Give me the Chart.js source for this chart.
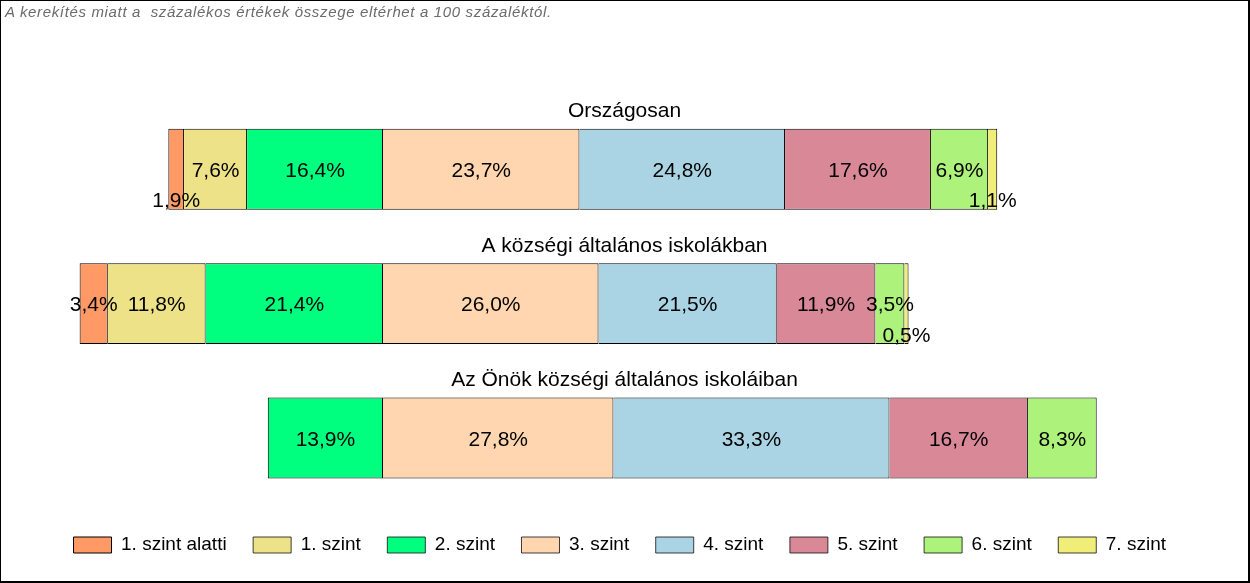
<!DOCTYPE html>
<html><head><meta charset="utf-8">
<script src="https://cdn.jsdelivr.net/npm/chart.js@4.4.1/dist/chart.umd.min.js"></script>
<style>
html,body{margin:0;padding:0;background:#fff;}
#wrap{position:absolute;left:0;top:0;width:1250px;height:583px;box-sizing:border-box;border-style:solid;border-color:#000;border-width:1px 2px 2px 1px;background:#fff;}
#box{position:absolute;left:0;top:0;width:1247px;height:580px;}
#note{position:absolute;left:4px;top:2px;font:italic 15px "Liberation Sans",Arial,sans-serif;letter-spacing:0.65px;color:#6b6b6b;white-space:pre;}
</style></head><body>
<div id="wrap"><div id="box"><canvas id="c"></canvas></div><div id="note">A kerekítés miatt a  százalékos értékek összege eltérhet a 100 százaléktól.</div></div>
<script>
const rowTitles = ['Országosan', 'A községi általános iskolákban', 'Az Önök községi általános iskoláiban'];
const levelNames = ['1. szint alatti', '1. szint', '2. szint', '3. szint', '4. szint', '5. szint', '6. szint', '7. szint'];
const levelColors = ['#FF9966', '#EEE288', '#00FF7F', '#FFD6AF', '#AAD4E4', '#D98898', '#ADF27A', '#F0EE78'];
const belowLevel1 = [1.9, 3.4, 0];
const level1 = [7.6, 11.8, 0];
const level2 = [16.4, 21.4, 13.9];
const level3 = [23.7, 26.0, 27.8];
const level4 = [24.8, 21.5, 33.3];
const level5 = [17.6, 11.9, 16.7];
const level6 = [6.9, 3.5, 8.3];
const level7 = [1.1, 0.5, 0];

const series = [belowLevel1, level1, level2, level3, level4, level5, level6, level7];
const leftOrder = [2, 1, 0];      // stacked leftwards from 0
const rightOrder = [3, 4, 5, 6, 7]; // stacked rightwards from 0
const ranges = series.map(() => []);
const leftMost = [];
rowTitles.forEach((t, r) => {
  let pos = 0;
  leftOrder.forEach(i => {
    const v = series[i][r];
    ranges[i][r] = v ? [pos - v, pos] : null;
    if (v) leftMost[r] = i;
    pos -= v;
  });
  pos = 0;
  rightOrder.forEach(i => {
    const v = series[i][r];
    ranges[i][r] = v ? [pos, pos + v] : null;
    pos += v;
  });
});

const fmt = v => v.toFixed(1).replace('.', ',') + '%';
const FONT = '"Liberation Sans", Arial, sans-serif';

const textPlugin = {
  id: 'texts',
  afterDatasetsDraw(chart) {
    const ctx = chart.ctx;
    ctx.save();
    ctx.fillStyle = '#000';
    ctx.textAlign = 'center';
    ctx.textBaseline = 'alphabetic';
    ctx.font = '21px ' + FONT;
    chart.data.datasets.forEach((ds, i) => {
      const meta = chart.getDatasetMeta(i);
      meta.data.forEach((el, r) => {
        const v = series[i][r];
        if (!v) return;
        const cx = (el.x + el.base) / 2;
        const y = v < 2 ? el.y + 38 : el.y + 7.5;
        ctx.fillText(fmt(v), cx, y);
      });
    });
    const ys = chart.scales.y;
    rowTitles.forEach((t, r) => {
      ctx.fillText(t, chart.width / 2, ys.getPixelForValue(r) - 52);
    });
    ctx.restore();
  }
};

new Chart(document.getElementById('c'), {
  type: 'bar',
  data: {
    labels: rowTitles,
    datasets: levelNames.map((name, i) => ({
      label: name,
      data: ranges[i],
      backgroundColor: levelColors[i],
      borderColor: '#000',
      borderSkipped: false,
      borderWidth: ctx => {
        if (ctx.dataIndex === undefined) return 1;
        return {top: 1, bottom: 1, right: 1, left: leftMost[ctx.dataIndex] === i ? 1 : 0};
      }
    }))
  },
  options: {
    indexAxis: 'y',
    responsive: true,
    maintainAspectRatio: false,
    animation: false,
    devicePixelRatio: 1,
    datasets: { bar: { grouped: false, barPercentage: 0.602, categoryPercentage: 1 } },
    layout: { padding: { left: 9, right: 18.5, top: 101, bottom: 16.5 } },
    scales: {
      x: { display: false, min: -45, max: 102.12 },
      y: { display: false }
    },
    plugins: {
      legend: {
        position: 'bottom',
        title: { display: true, text: '', padding: 0, font: { size: 3, lineHeight: 1.25 } },
        labels: {
          boxWidth: 38, boxHeight: 16, padding: 26.5, color: '#000',
          font: { family: FONT, size: 19 }
        }
      },
      tooltip: { enabled: false }
    }
  },
  plugins: [textPlugin]
});
</script>
</body></html>
